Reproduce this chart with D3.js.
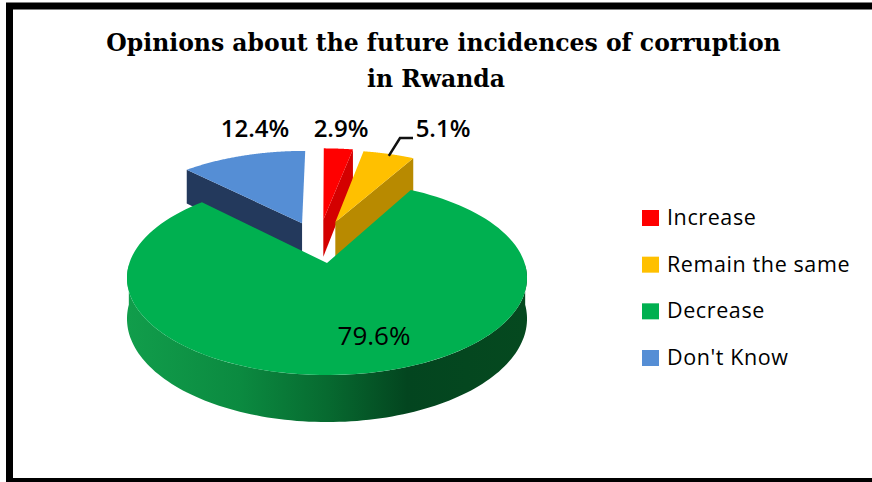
<!DOCTYPE html>
<html>
<head>
<meta charset="utf-8">
<script src="https://cdn.jsdelivr.net/npm/d3@7/dist/d3.min.js"></script>
<style>
html,body{margin:0;padding:0;background:#fff;overflow:hidden}
svg{display:block}
</style>
</head>
<body>
<svg id="chart" width="872" height="482"></svg>
<script>
// Survey shares, in the order the pie runs clockwise from twelve o'clock
const categories = ["Increase", "Remain the same", "Decrease", "Don't Know"];
const shares = [2.9, 5.1, 79.6, 12.4];
const shareLabels = ["2.9%", "5.1%", "79.6%", "12.4%"];
const topColors = ["#ff0000", "#ffc000", "#00b050", "#558ed5"];
const wallColors = ["#d40000", "#b88a00", "#00803a", "#23395c"];
const pullOut = [[-0.02, 0.49], [0.045, 0.46], [0, 0], [-0.135, 0.45]];
const titleLines = ["Opinions about the future incidences of corruption", "in Rwanda"];

const svg = d3.select("#chart");

// Panel frame, open on the right where it runs off the page
svg.append("path").attr("d", "M880,6H9.5V481.5H880")
  .attr("fill", "none").attr("stroke", "#000").attr("stroke-width", 7);

// Title
svg.append("g").selectAll("text").data(titleLines).join("text")
  .attr("x", (d, i) => i === 0 ? 443.5 : 436).attr("y", (d, i) => 51 + i * 36)
  .attr("text-anchor", "middle")
  .attr("font-family", "'DejaVu Serif', serif").attr("font-weight", "bold")
  .attr("font-size", 23.5).attr("fill", "#000").text(d => d);

// Perspective projection of the tilted pie plane
const apex = [327, 263], radiusX = 197.6, radiusY = 94.7, tilt = 0.155, thickness = 39.7;
const project = (x, y) => {
  const w = 1 + tilt * y;
  return [apex[0] + radiusX * x / w, apex[1] - radiusY * y / w];
};
const drop = (x, y) => {
  const w = 1 + tilt * y, p = project(x, y);
  return [p[0], p[1] + thickness / w];
};
const pie = d3.pie().sort(null).value(d => d)(shares);
const rimAngles = (a0, a1) => d3.range(0, 1.0001, 1 / 120).map(t => a0 + (a1 - a0) * t);
const onRim = (a, off) => [Math.sin(a) + off[0], Math.cos(a) + off[1]];
const line = d3.line();

const defs = svg.append("defs");
const wallGradient = defs.append("linearGradient").attr("id", "wallShade")
  .attr("gradientUnits", "userSpaceOnUse").attr("x1", 128).attr("x2", 527).attr("y1", 0).attr("y2", 0);
[[0, "#119d4b"], [0.28, "#0b8a40"], [0.5, "#076a30"], [0.7, "#03451f"], [1, "#05491f"]]
  .forEach(s => wallGradient.append("stop").attr("offset", s[0]).attr("stop-color", s[1]));

const drawSlice = i => {
  const s = pie[i], off = pullOut[i], g = svg.append("g");
  const c = [off[0], off[1]];
  if (i === 2) {
    // Outer wall along the front of the large slice
    const front = rimAngles(Math.PI / 2 + 0.02, 3 * Math.PI / 2 - 0.02).map(a => onRim(a, off));
    const wall = front.map(p => project(p[0], p[1])).concat(front.slice().reverse().map(p => drop(p[0], p[1])));
    g.append("path").attr("d", line(wall) + "Z").attr("fill", "url(#wallShade)");
  } else {
    // Cut face that turns towards the viewer
    const a = i === 3 ? s.startAngle : s.endAngle;
    const r = onRim(a, off);
    const face = [project(c[0], c[1]), project(r[0], r[1]), drop(r[0], r[1]), drop(c[0], c[1])];
    g.append("path").attr("d", line(face) + "Z").attr("fill", wallColors[i]);
  }
  const rim = rimAngles(s.startAngle, s.endAngle).map(a => onRim(a, off));
  const top = [c].concat(rim).map(p => project(p[0], p[1]));
  g.append("path").attr("d", line(top) + "Z").attr("fill", topColors[i]);
};
[3, 0, 1, 2].forEach(drawSlice);

// Leader line for the small slice label
const lead = onRim((pie[1].startAngle + pie[1].endAngle) / 2, pullOut[1]);
const leadStart = project(lead[0], lead[1]);
svg.append("path")
  .attr("d", line([[leadStart[0], leadStart[1] + 2], [400, 138], [413, 138]]))
  .attr("fill", "none").attr("stroke", "#111").attr("stroke-width", 2.5);

// Value labels
const labelAt = [[341, 137], [443, 137], [374, 345], [255, 137]];
svg.append("g").selectAll("text").data(shareLabels).join("text")
  .attr("x", (d, i) => labelAt[i][0]).attr("y", (d, i) => labelAt[i][1])
  .attr("text-anchor", "middle")
  .attr("font-family", "'Open Sans', sans-serif")
  .attr("font-weight", (d, i) => i === 2 ? "normal" : "600")
  .attr("font-size", (d, i) => i === 2 ? 26 : 24).attr("fill", "#000").text(d => d);

// Legend
const legendY = d3.scalePoint().domain(categories).range([218, 358]);
const legend = svg.append("g").selectAll("g").data(categories).join("g")
  .attr("transform", d => `translate(642,${legendY(d)})`);
legend.append("rect").attr("x", 0).attr("y", -8).attr("width", 17).attr("height", 16)
  .attr("fill", (d, i) => topColors[i]);
legend.append("text").attr("x", 25).attr("y", 7)
  .attr("font-family", "'Open Sans', sans-serif").attr("font-size", 21.5)
  .attr("letter-spacing", 0.6).attr("fill", "#000").text(d => d);
</script>
</body>
</html>
